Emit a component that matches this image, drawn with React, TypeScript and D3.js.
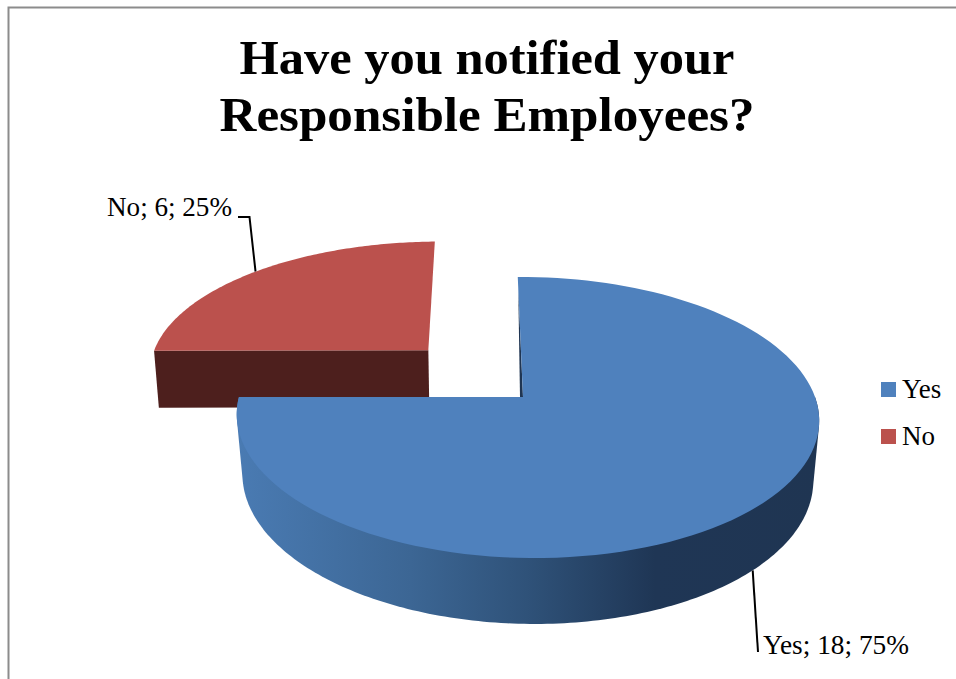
import React from "react";
import * as d3 from "d3";

const categories = ["Yes", "No"];
const counts = [18, 6];
const percents = ["75%", "25%"];
const topColors = ["#4f81bd", "#bb514d"];
const titleLines = ["Have you notified your", "Responsible Employees?"];
const titleWidths = [495, 535];

const W = 956;
const H = 679;
const font = "'Liberation Serif', serif";

type P = [number, number];

// perspective projection of a unit pie lying on a plane
const X0 = 523, Y0 = 397, A = 288, B = 137.5, S = -6, PV = 0.146, QU = -0.0138;
const project = (u: number, v: number): P => {
  const w = 1 + PV * v + QU * u;
  return [X0 + (A * u + S * v) / w, Y0 - (B * v) / w];
};
// lower plane (the pie's underside)
const lower = ([x, y]: P, k = 0.98): P => [X0 + (x - X0) * k, 407 + 1.043 * (y - 350)];

const explode: Record<string, P> = { Yes: [0, 0], No: [-0.34, 0.36] };
const radiusU: Record<string, number> = { Yes: 1, No: 1.025 };

const pie = d3.pie<number>().sort(null)(counts);

const rim = (start: number, end: number, o: P, ru = 1, n = 120): P[] =>
  d3.range(n + 1).map((i) => {
    const t = start + ((end - start) * i) / n;
    return project(o[0] + ru * Math.sin(t), o[1] + Math.cos(t));
  });

const line = d3.line<P>().x((d) => d[0]).y((d) => d[1]);
const closed = (pts: P[]) => (line(pts) ?? "") + "Z";

export default function App() {
  const [yes, no] = pie;
  const oY = explode.Yes;
  const oN = explode.No;

  const yesRim = rim(yes.startAngle, yes.endAngle, oY);
  const noRim = rim(no.startAngle, no.endAngle, oN, radiusU.No);
  const apexY = project(oY[0], oY[1]);
  const apexN = project(oN[0], oN[1]);

  const frontPts = rim(Math.PI / 2, (Math.PI * 3) / 2, oY, 1, 180);
  const sideHull = d3.polygonHull([...frontPts, ...frontPts.map((p) => lower(p))]) as P[];

  const noLeft = project(oN[0] - radiusU.No, oN[1]);
  const noWall: P[] = [noLeft, apexN, lower(apexN, 0.99), lower(noLeft, 0.987)];

  const sliver: P[] = [apexY, [apexY[0] - 3, apexY[1]], project(0, 0.9)];

  const legendY = d3.scalePoint<string>().domain(categories).range([390, 437]);

  const leaderNo = project(oN[0] + radiusU.No * Math.sin(Math.PI * 1.75), oN[1] + Math.cos(Math.PI * 1.75));
  const leaderYes = lower(project(Math.sin(Math.PI * 0.75), Math.cos(Math.PI * 0.75)));

  return (
    <svg
      width={W}
      height={H}
      viewBox={`0 0 ${W} ${H}`}
      style={{ position: "absolute", left: 0, top: 0, background: "#fff" }}
    >
      <defs>
        <linearGradient id="side" gradientUnits="userSpaceOnUse" x1={236} x2={818} y1={0} y2={0}>
          <stop offset="0" stopColor="#4a7bb3" />
          <stop offset="0.3" stopColor="#3c6694" />
          <stop offset="0.5" stopColor="#2f5279" />
          <stop offset="0.72" stopColor="#1f3655" />
          <stop offset="1" stopColor="#1f3552" />
        </linearGradient>
      </defs>

      <path d={`M8.5,${H}V7.5H${W}`} fill="none" stroke="#8c8c8c" strokeWidth={2} />

      <g fontFamily={font} fontWeight={700} fontSize={49} textAnchor="middle" fill="#000">
        {titleLines.map((t, i) => (
          <text key={t} x={487} y={74 + i * 57} textLength={titleWidths[i]} lengthAdjust="spacingAndGlyphs">{t}</text>
        ))}
      </g>

      {/* leader lines */}
      <path
        d={line([[238, 217], [249.5, 217], leaderNo]) ?? ""}
        fill="none"
        stroke="#000"
        strokeWidth={2}
      />
      <path
        d={line([leaderYes, [758, 652]]) ?? ""}
        fill="none"
        stroke="#000"
        strokeWidth={2}
      />

      {/* exploded slice */}
      <path d={closed(noWall)} fill="#4d1f1d" />
      <path d={closed([apexN, ...noRim])} fill={topColors[1]} />

      {/* main slice */}
      <path d={closed(sideHull)} fill="url(#side)" />
      <path d={closed(sliver)} fill="#1f3552" />
      <path d={closed([apexY, ...yesRim])} fill={topColors[0]} />

      {/* data labels */}
      <g fontFamily={font} fontSize={27} fill="#000">
        <text x={107} y={216} textLength={125} lengthAdjust="spacingAndGlyphs">{`${categories[1]}; ${counts[1]}; ${percents[1]}`}</text>
        <text x={763} y={654} textLength={146} lengthAdjust="spacingAndGlyphs">{`${categories[0]}; ${counts[0]}; ${percents[0]}`}</text>
      </g>

      {/* legend */}
      <g fontFamily={font} fontSize={27} fill="#000">
        {categories.map((c, i) => (
          <g key={c}>
            <rect x={881} y={(legendY(c) ?? 0) - 8} width={15} height={15} fill={topColors[i]} />
            <text x={902} y={(legendY(c) ?? 0) + 8}>{c}</text>
          </g>
        ))}
      </g>
    </svg>
  );
}
